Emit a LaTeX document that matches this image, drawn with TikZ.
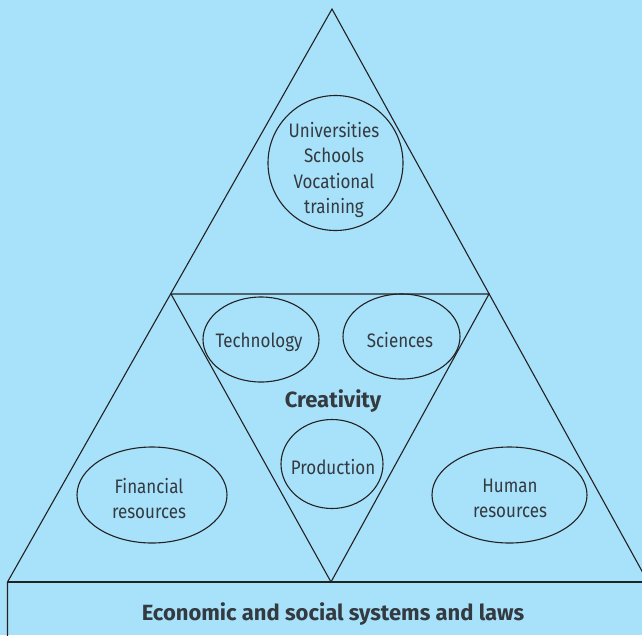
\documentclass[tikz,border=0pt]{standalone}
\usepackage{fontspec}
\setmainfont{Fira Sans}[FakeStretch=0.87]
\newfontfamily\headfont{Fira Sans}
\usetikzlibrary{shapes.geometric}
\definecolor{bgblue}{HTML}{A8E1FA}
\definecolor{inkline}{HTML}{222222}
\definecolor{inktext}{HTML}{333A40}
\tikzset{
  oval/.style={ellipse, draw=inkline, line width=1.1pt, inner sep=0pt},
  lbl/.style={text=inktext, inner sep=0pt, align=center,
    font=\fontsize{19.5}{25.5}\selectfont},
  edge/.style={draw=inkline, line width=1.1pt, line join=miter},
  bold/.style={text=inktext, inner sep=0pt, font=\fontsize{22}{25}\selectfont\headfont\bfseries}
}
\begin{document}
\begin{tikzpicture}[x=1pt,y=-1pt]
\fill[bgblue] (0,0) rectangle (642,635);
\useasboundingbox (0,0) rectangle (642,635);
\begin{scope}
\clip (0,0) rectangle (642,635);
\coordinate (apex) at (332,9);
\coordinate (bl) at (7.5,582);
\coordinate (br) at (648,582);
\coordinate (il) at (171,294);
\coordinate (ir) at (489,294);
\coordinate (ib) at (331,582);
\coordinate (rbl) at (7.5,640);
\coordinate (rbr) at (650,582);
\draw[edge] (rbl) -- (bl) -- (apex) -- (br);
\draw[edge] (bl) -- (rbr);
\draw[edge] (il) -- (ir) -- (ib) -- cycle;
\end{scope}
\node[oval, minimum width=135pt, minimum height=135pt] (edu) at (335.5,163) {};
\node[lbl] (edut) at (334,170) {Universities\\Schools\\Vocational\\training};
\node[oval, minimum width=116pt, minimum height=85pt] (tech) at (261,339.5) {};
\node[lbl] (techt) at (259,342) {Technology};
\node[oval, minimum width=117pt, minimum height=85pt] (sci) at (401.5,336.5) {};
\node[lbl] (scit) at (400,340) {Sciences};
\node[oval, minimum width=102pt, minimum height=89pt] (prod) at (332,464) {};
\node[lbl] (prodt) at (333,467) {Production};
\node[oval, minimum width=150pt, minimum height=96pt] (fin) at (152,495) {};
\node[lbl] (fint) at (149,498.5) {Financial\\resources};
\node[oval, minimum width=155pt, minimum height=96pt] (hum) at (509.5,495) {};
\node[lbl] (humt) at (510,498.5) {Human\\resources};
\node[bold] (crea) at (333,401) {Creativity};
\node[bold] (eco) at (333,614.5) {Economic and social systems and laws};
\end{tikzpicture}
\end{document}
